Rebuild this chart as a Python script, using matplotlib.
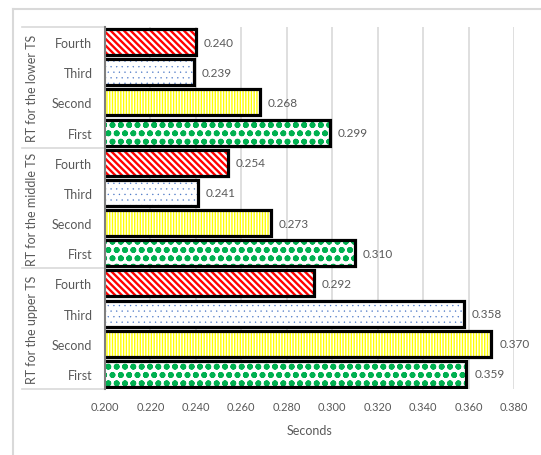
import numpy as np
import matplotlib.pyplot as plt
from matplotlib.lines import Line2D

# response time per stage
groups = ['RT for the lower TS', 'RT for the middle TS', 'RT for the upper TS']
levels = ['Fourth', 'Third', 'Second', 'First']
rt_lower = [0.240, 0.239, 0.268, 0.299]
rt_middle = [0.254, 0.241, 0.273, 0.310]
rt_upper = [0.292, 0.358, 0.370, 0.359]
x_ticks = [0.200, 0.220, 0.240, 0.260, 0.280, 0.300, 0.320, 0.340, 0.360, 0.380]

all_values = [rt_lower, rt_middle, rt_upper]

# hatch colour, pattern, hatch linewidth for each level
hatch_styles = {
    'Fourth': ('#FF0000', '\\' * 5, 1.7),
    'Third': ('#4472C4', '...', 0.2),
    'Second': ('#FFFF00', '|' * 6, 1.0),
    'First': ('#00B050', 'oo', 1.8),
}

grey_txt = '#595959'
plt.rcParams['font.family'] = ['Lato', 'DejaVu Sans']

fig = plt.figure(figsize=(5.41, 4.56), dpi=100)
ax = fig.add_axes([105/541, 1 - 390/456, (514 - 105)/541, (390 - 28)/456])

# outer chart frame (only top and left edges are inside the picture)
fig.add_artist(Line2D([13/541, 1], [1 - 10/456, 1 - 10/456], transform=fig.transFigure,
                      color='#D9D9D9', linewidth=1.5))
fig.add_artist(Line2D([13/541, 13/541], [0, 1 - 10/456], transform=fig.transFigure,
                      color='#D9D9D9', linewidth=1.5))

y_labels = []
for g, vals in enumerate(all_values):
    for k, lev in enumerate(levels):
        y = g*4 + k
        col, hatch, hlw = hatch_styles[lev]
        with plt.rc_context({'hatch.linewidth': hlw}):
            b = ax.barh(y, vals[k], height=0.86, color='white', edgecolor=col,
                        hatch=hatch, linewidth=0, zorder=2)
        for p in b:
            if hasattr(p, 'set_hatch_linewidth'):
                p.set_hatch_linewidth(hlw)
        ax.barh(y, vals[k], height=0.86, color='none', edgecolor='black',
                linewidth=2.3, zorder=3)
        ax.text(vals[k] + 0.0035, y, '%.3f' % vals[k], va='center', ha='left',
                fontsize=8.5, color=grey_txt)
        y_labels.append(lev)

ax.set_xlim(0.2, 0.38)
ax.set_ylim(11.5, -0.5)
ax.set_xticks(x_ticks)
ax.set_xticklabels(['%.3f' % t for t in x_ticks])
ax.set_yticks(range(12))
ax.set_yticklabels(y_labels)
ax.tick_params(axis='y', length=0, pad=9, labelsize=9, labelcolor=grey_txt)
ax.tick_params(axis='x', length=0, pad=9, labelsize=8, labelcolor=grey_txt)
ax.xaxis.grid(True, color='#D9D9D9', linewidth=1.2, zorder=0)
ax.set_axisbelow(True)
for s in ['top', 'right', 'bottom']:
    ax.spines[s].set_visible(False)
ax.spines['left'].set_color('#7F7F7F')
ax.spines['left'].set_linewidth(1.5)
ax.spines['left'].set_zorder(4)
ax.set_xlabel('Seconds', fontsize=9, color=grey_txt, labelpad=8)

# multi-level category axis: group names and separators
trans = ax.get_yaxis_transform()
for g, name in enumerate(groups):
    ax.text(-0.178, g*4 + 1.5, name, rotation=90, ha='center', va='center',
            transform=trans, fontsize=9, color=grey_txt)
for yb in [-0.5, 3.5, 7.5, 11.5]:
    ax.add_line(Line2D([-0.203, 0], [yb, yb], transform=trans, color='#D9D9D9',
                       linewidth=1.2, clip_on=False))

plt.savefig('out.png', dpi=100)
